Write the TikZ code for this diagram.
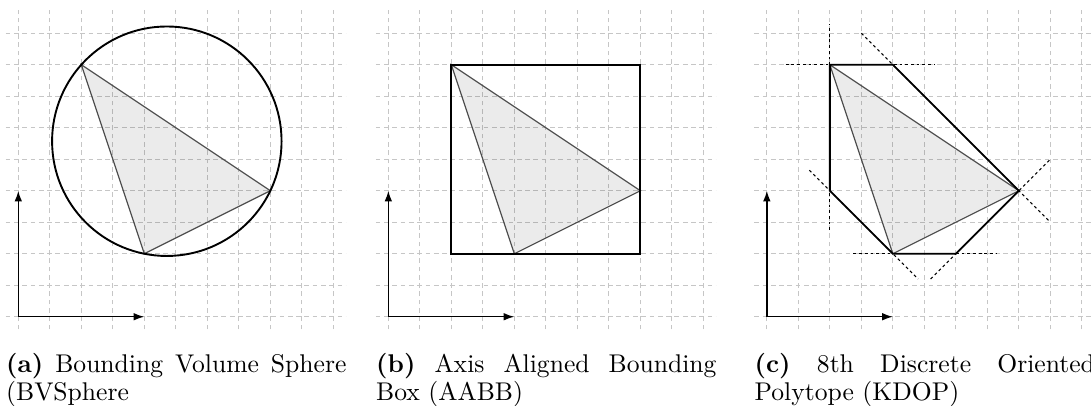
\documentclass[tikz,border=0pt]{standalone}
\usetikzlibrary{positioning,calc,arrows.meta}

\begin{document}
\begin{tikzpicture}
	[x=0.467cm, y=0.467cm,
	 gridline/.style={gray!45, line width=0.4pt, dash pattern=on 2pt off 1.5pt, step=1},
	 hull/.style={black, line width=0.8pt},
	 slab/.style={black, line width=0.5pt, dash pattern=on 1.2pt off 1.2pt},
	 tri/.style={fill=black, fill opacity=0.08, draw=black!70, draw opacity=1, line width=0.5pt},
	 axis/.style={-{Latex[length=4.5pt,width=3.2pt]}, line width=0.6pt},
	 capt/.style={text width=10.8*0.467cm, align=justify, inner sep=0pt, anchor=north west,
	   font=\fontsize{10.8}{11.9}\selectfont}]
	\useasboundingbox (-0.581,-2.803) rectangle (34.05,10.054);
	% grid, axes and triangle in every panel
	\foreach \p/\ox in {a/0, b/11.746, c/23.76} {
		\begin{scope}[shift={(\ox,0)}]
			\draw[gridline] (-0.4,-0.4) grid (10.4,9.75);
			\draw[axis] (0,0) -- (0,4);
			\draw[axis] (0,0) -- (4,0);
			\coordinate (\p-1) at (2,8);
			\coordinate (\p-2) at (8,4);
			\coordinate (\p-3) at (4,2);
			\draw[tri] (\p-1) -- (\p-2) -- (\p-3) -- cycle;
		\end{scope}
	}
	% (a) sphere
	\draw[hull] (33/7,39/7) circle (3.642);
	\node[capt] (capA) at (-0.4,-1.136) {\textbf{(a)} Bounding Volume Sphere\linebreak (BVSphere};
	% (b) box
	\begin{scope}[shift={(11.746,0)}]
		\draw[hull] (2,2) rectangle (8,8);
		\node[capt] (capB) at (-0.4,-1.136) {\textbf{(b)} Axis Aligned Bounding\linebreak Box (AABB)};
	\end{scope}
	% (c) kdop
	\begin{scope}[shift={(23.76,0)}]
		\draw[hull] (2,8) -- (4,8) -- (c-2) -- (6,2) -- (c-3) -- (2,4) -- cycle;
		\draw[slab] (0.6,8) -- (5.3,8);
		\draw[slab] (2,2.75) -- (2,9.3);
		\draw[slab] (2.75,2) -- (7.3,2);
		\draw[slab] (3,9) -- (9,3);
		\draw[slab] (5.2,1.2) -- (9,5);
		\draw[slab] (1.35,4.65) -- (4.8,1.2);
		\node[capt] (capC) at (-0.4,-1.136) {\textbf{(c)} 8th Discrete Oriented\linebreak Polytope (KDOP)};
	\end{scope}
\end{tikzpicture}
\end{document}
